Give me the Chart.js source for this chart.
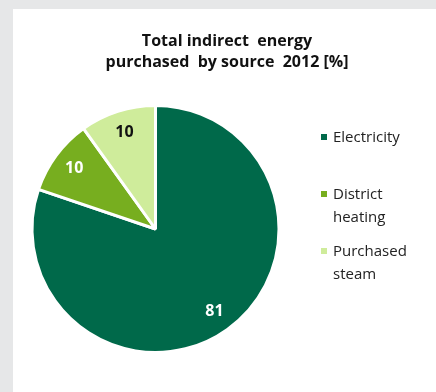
<!DOCTYPE html>
<html>
<head>
<meta charset="utf-8">
<script src="https://cdn.jsdelivr.net/npm/chart.js@4"></script>
<style>
  html, body { margin: 0; padding: 0; }
  body { width: 436px; height: 392px; background: #e6e7e8; overflow: hidden; }
  #panel { position: absolute; left: 13px; top: 9px; width: 423px; height: 383px; background: #fff; }
  #chart { position: absolute; left: 0; top: 0; }
  #title { position: absolute; left: 14px; width: 400px; top: 21px; text-align: center; white-space: pre;
           font-family: "Open Sans", sans-serif; font-weight: bold; font-size: 16px; line-height: 21px; color: #111; }
  #legend { position: absolute; left: 308px; top: 116px; font-family: "Open Sans", sans-serif; font-size: 15px; color: #222; }
  .item { position: relative; height: 57px; padding-left: 12px; width: 90px; line-height: 23px; }
  .item .box { position: absolute; left: 0; top: 9px; width: 6px; height: 6px; }
</style>
</head>
<body>
<div id="panel">
  <canvas id="chart" width="423" height="383"></canvas>
  <div id="title"></div>
  <div id="legend"></div>
</div>
<script>
const titleLines = ["Total indirect  energy", "purchased  by source  2012 [%]"];
const sources = ["Electricity", "District heating", "Purchased steam"];
const shares = [81, 10, 10];
const colors = ["#00694a", "#77ae1f", "#cfec9b"];
const labelColors = ["#ffffff", "#ffffff", "#111111"];

document.getElementById("title").textContent = titleLines.join("\n");

// value labels inside each slice
const sliceLabels = {
    id: "sliceLabels",
    afterDatasetsDraw(chart) {
        const ctx = chart.ctx;
        const meta = chart.getDatasetMeta(0);
        ctx.save();
        ctx.font = "bold 16px 'Open Sans', sans-serif";
        ctx.textAlign = "center";
        ctx.textBaseline = "middle";
        meta.data.forEach((arc, i) => {
            const p = arc.getProps(["x", "y", "startAngle", "endAngle", "outerRadius"], true);
            const mid = (p.startAngle + p.endAngle) / 2;
            const r = p.outerRadius * 0.82;
            ctx.fillStyle = labelColors[i];
            ctx.fillText(String(shares[i]), p.x + Math.cos(mid) * r, p.y + Math.sin(mid) * r);
        });
        ctx.restore();
    }
};

new Chart(document.getElementById("chart").getContext("2d"), {
    type: "pie",
    data: {
        labels: sources,
        datasets: [{
            data: shares,
            backgroundColor: colors,
            borderColor: "#ffffff",
            borderWidth: 3,
            radius: 123.5
        }]
    },
    options: {
        responsive: false,
        animation: false,
        // chart area placed so the pie sits left of the legend, below the title
        layout: { padding: { left: 20, right: 158, top: 63, bottom: 6 } },
        plugins: {
            legend: { display: false },
            tooltip: { enabled: false },
            title: { display: false }
        }
    },
    plugins: [sliceLabels]
});

// legend beside the pie
const legend = document.getElementById("legend");
sources.forEach((name, i) => {
    const item = document.createElement("div");
    item.className = "item";
    const box = document.createElement("span");
    box.className = "box";
    box.style.background = colors[i];
    item.appendChild(box);
    item.appendChild(document.createTextNode(name));
    legend.appendChild(item);
});
</script>
</body>
</html>
